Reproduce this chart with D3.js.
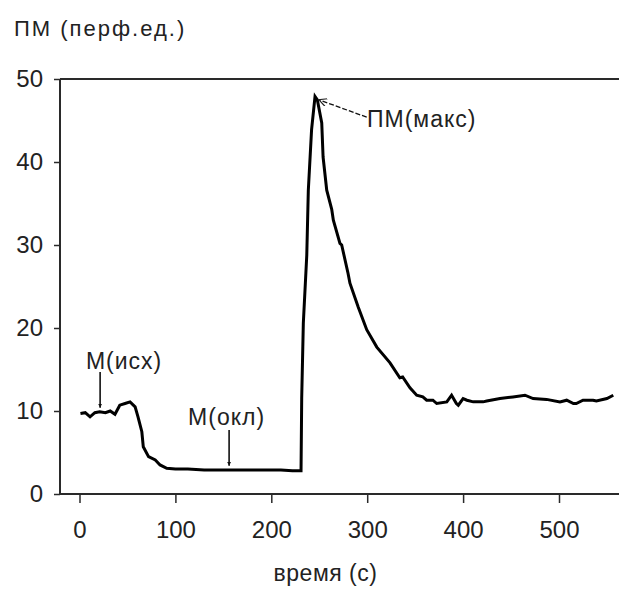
<!DOCTYPE html>
<html>
<head>
<meta charset="utf-8">
<script src="https://cdn.jsdelivr.net/npm/d3@7"></script>
<style>
  html, body { margin: 0; padding: 0; background: #ffffff; }
  svg { display: block; }
  text { font-family: "Liberation Sans", Arial, sans-serif; fill: #222; }
</style>
</head>
<body>
<svg id="chart" width="619" height="591"></svg>
<script>
// ---- data ----
const timeS = [1, 6, 11, 16, 21, 27, 32, 37, 42, 47.5, 52.7, 58, 61, 65, 66.5, 72, 79, 84, 91, 100, 113, 130, 150, 170, 190, 210, 222, 231, 231.7, 233.4, 237, 238.6, 242, 245.6, 248, 252.6, 254, 257.8, 263, 264.7, 271.6, 273.4, 280, 282, 290.7, 299.5, 310, 323.8, 334, 337, 344.6, 351.6, 358, 362, 368.5, 372.5, 383, 388, 393, 395, 400, 404, 410.6, 420.8, 424.6, 438.5, 452, 464.5, 473, 487, 501, 508, 515, 518, 525, 535.5, 539, 550, 556.6];
const pmValues = [9.7, 9.8, 9.3, 9.8, 9.9, 9.8, 10.0, 9.6, 10.7, 10.9, 11.1, 10.5, 9.3, 7.5, 5.7, 4.5, 4.1, 3.5, 3.1, 3.0, 3.0, 2.9, 2.9, 2.9, 2.9, 2.9, 2.8, 2.8, 11.5, 20.6, 28.8, 36.6, 43.9, 47.9, 47.5, 44.7, 40.6, 36.6, 34.3, 33.0, 30.2, 30.0, 26.6, 25.4, 22.5, 19.8, 17.7, 15.8, 14.0, 14.1, 12.8, 11.9, 11.7, 11.3, 11.3, 10.9, 11.1, 11.9, 10.9, 10.7, 11.5, 11.3, 11.1, 11.1, 11.2, 11.5, 11.7, 11.9, 11.5, 11.4, 11.1, 11.3, 10.9, 10.9, 11.3, 11.3, 11.2, 11.5, 11.9];
const xTicks = [0, 100, 200, 300, 400, 500];
const yTicks = [0, 10, 20, 30, 40, 50];
const yTitle = "ПМ (перф.ед.)";
const xTitle = "время (с)";
// annotations: label, arrow start (t, v), arrow tip (t, v)
const annLabels = ["М(исх)", "М(окл)", "ПМ(макс)"];
const annFrom = [[21.5, 14.7], [156, 7.7], [299.5, 45.4]];
const annTo = [[21.5, 10.4], [156, 3.4], [249.5, 47.5]];

// ---- layout ----
const svg = d3.select("#chart");
const x = d3.scaleLinear().domain([0, 500]).range([79.5, 559]);
const y = d3.scaleLinear().domain([0, 50]).range([494, 79]);
const axisX0 = 60, axisRight = 619;

svg.append("defs").append("marker")
  .attr("id", "headFill").attr("viewBox", "0 0 10 10")
  .attr("refX", 10).attr("refY", 5)
  .attr("markerWidth", 4).attr("markerHeight", 5)
  .attr("markerUnits", "userSpaceOnUse")
  .attr("orient", "auto")
  .append("path").attr("d", "M0,0 L10,5 L0,10 Z").attr("fill", "#111");
svg.select("defs").append("marker")
  .attr("id", "headOpen").attr("viewBox", "0 0 10 10")
  .attr("refX", 10).attr("refY", 5)
  .attr("markerWidth", 12).attr("markerHeight", 8)
  .attr("markerUnits", "userSpaceOnUse")
  .attr("orient", "auto")
  .append("path").attr("d", "M0,0 L10,5 L0,10").attr("fill", "none")
  .attr("stroke", "#222").attr("stroke-width", 1.4);

// frame lines (top, left, bottom)
const frame = svg.append("g").attr("stroke", "#2a2a2a").attr("stroke-width", 2).attr("fill", "none");
frame.append("line").attr("x1", axisX0).attr("x2", axisRight).attr("y1", y(50)).attr("y2", y(50));
frame.append("line").attr("x1", axisX0).attr("x2", axisX0).attr("y1", y(50)).attr("y2", y(0) + 1);
frame.append("line").attr("x1", axisX0).attr("x2", axisRight).attr("y1", y(0)).attr("y2", y(0));

// y axis
const gy = svg.append("g").attr("transform", `translate(${axisX0},0)`)
  .call(d3.axisLeft(y).tickValues(yTicks).tickSize(6).tickSizeOuter(0).tickPadding(11));
gy.select(".domain").remove();
gy.selectAll(".tick line").attr("stroke", "#2a2a2a").attr("stroke-width", 1.5);
gy.selectAll(".tick text").attr("font-size", 24).attr("fill", "#222")
  .attr("font-family", "Liberation Sans, Arial, sans-serif");

// x axis
const gx = svg.append("g").attr("transform", `translate(0,${y(0)})`)
  .call(d3.axisBottom(x).tickValues(xTicks).tickSize(9).tickSizeOuter(0).tickPadding(18));
gx.select(".domain").remove();
gx.selectAll(".tick line").attr("stroke", "#2a2a2a").attr("stroke-width", 1.5);
gx.selectAll(".tick text").attr("font-size", 24).attr("fill", "#222")
  .attr("font-family", "Liberation Sans, Arial, sans-serif");

// titles
svg.append("text").attr("x", 14).attr("y", 36).attr("font-size", 22)
  .attr("letter-spacing", 2)
  .text(yTitle);
svg.append("text").attr("x", 325.5).attr("y", 581).attr("font-size", 23)
  .attr("letter-spacing", 0.5)
  .attr("text-anchor", "middle").text(xTitle);

// data line
const series = timeS.map((t, i) => ({ t, v: pmValues[i] }));
svg.append("path").datum(series)
  .attr("fill", "none").attr("stroke", "#000").attr("stroke-width", 3)
  .attr("stroke-linejoin", "miter")
  .attr("d", d3.line().x(d => x(d.t)).y(d => y(d.v)));

// annotations
const annText = [
  { x: x(21.5) + 24, y: 369, anchor: "middle" },
  { x: x(156) - 2.5, y: 425, anchor: "middle" },
  { x: 367, y: 127, anchor: "start" }
];
annLabels.forEach((lab, i) => {
  const f = annFrom[i], to = annTo[i];
  svg.append("line")
    .attr("x1", x(f[0])).attr("y1", y(f[1]))
    .attr("x2", x(to[0])).attr("y2", y(to[1]))
    .attr("stroke", "#111").attr("stroke-width", i === 2 ? 1.3 : 1.6)
    .attr("stroke-dasharray", i === 2 ? "5,2" : null)
    .attr("marker-end", i === 2 ? "url(#headOpen)" : "url(#headFill)");
  svg.append("text").attr("x", annText[i].x).attr("y", annText[i].y)
    .attr("text-anchor", annText[i].anchor).attr("font-size", 23)
    .attr("letter-spacing", 1).text(lab);
});
</script>
</body>
</html>
